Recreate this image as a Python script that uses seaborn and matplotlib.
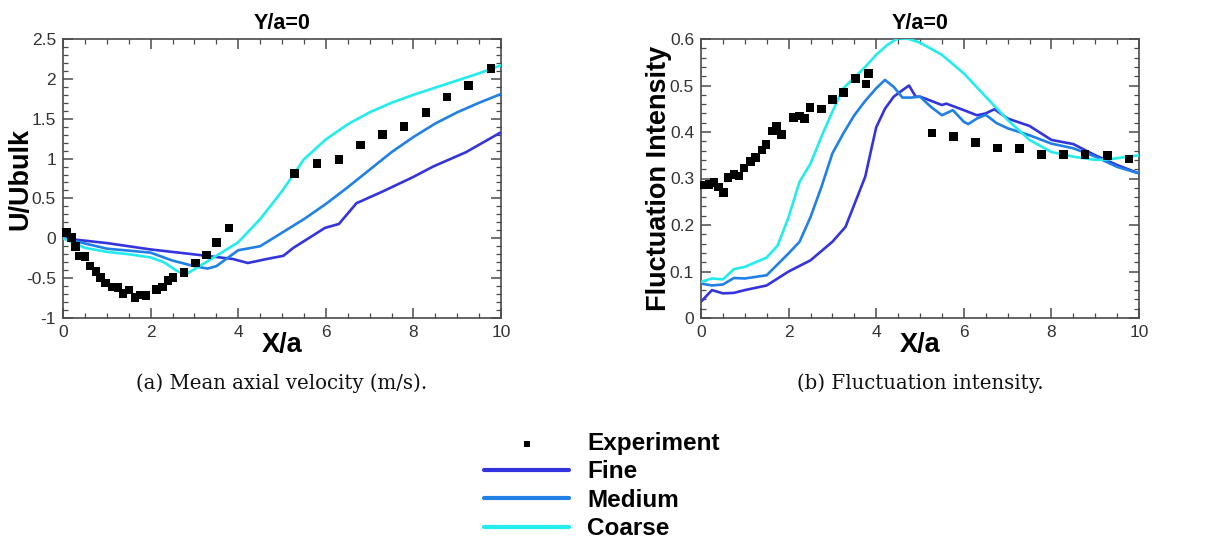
import numpy as np
import pandas as pd
import matplotlib
matplotlib.use("Agg")
import matplotlib.pyplot as plt
from matplotlib.ticker import MultipleLocator
import seaborn as sns

# ---------------- data: (a) mean axial velocity ----------------
exp_u_x = [0.08, 0.19, 0.29, 0.38, 0.50, 0.62, 0.75, 0.86, 0.97, 1.13, 1.26, 1.37, 1.51,
           1.64, 1.77, 1.89, 2.13, 2.27, 2.40, 2.51, 2.76, 3.02, 3.27, 3.51, 3.79,
           5.29, 5.80, 6.30, 6.79, 7.30, 7.79, 8.29, 8.77, 9.26, 9.77]
exp_u_y = [0.07, 0.01, -0.10, -0.22, -0.23, -0.35, -0.42, -0.49, -0.56, -0.61, -0.62, -0.69, -0.65,
           -0.74, -0.71, -0.72, -0.64, -0.61, -0.53, -0.49, -0.43, -0.31, -0.21, -0.05, 0.13,
           0.81, 0.94, 0.99, 1.17, 1.30, 1.40, 1.58, 1.77, 1.92, 2.13]

fine_u_x = [0.0, 1.0, 2.0, 3.12, 3.88, 4.22, 4.65, 5.03, 5.26, 5.98, 6.3, 6.7, 7.31, 8.0, 8.45, 9.2, 10.0]
fine_u_y = [0.0, -0.06, -0.14, -0.21, -0.26, -0.31, -0.26, -0.22, -0.12, 0.13, 0.18, 0.44, 0.59, 0.77, 0.90, 1.08, 1.33]

medium_u_x = [0.0, 1.0, 2.0, 2.5, 3.0, 3.3, 3.5, 4.0, 4.5, 5.0, 5.5, 6.0, 6.5, 7.0, 7.5, 8.0, 8.5, 9.0, 9.5, 10.0]
medium_u_y = [0.0, -0.13, -0.18, -0.28, -0.35, -0.38, -0.35, -0.15, -0.10, 0.07, 0.24, 0.43, 0.64, 0.86, 1.08, 1.27, 1.44, 1.58, 1.70, 1.81]

coarse_u_x = [0.0, 0.5, 1.0, 1.5, 2.0, 2.3, 2.6, 2.8, 3.0, 3.5, 4.0, 4.5, 5.0, 5.5, 6.0, 6.5, 7.0, 7.5, 8.0, 8.5, 9.0, 9.5, 10.0]
coarse_u_y = [0.0, -0.12, -0.17, -0.20, -0.24, -0.30, -0.41, -0.45, -0.39, -0.22, -0.05, 0.24, 0.59, 0.99, 1.24, 1.43, 1.58, 1.70, 1.80, 1.89, 1.98, 2.07, 2.17]

# ---------------- data: (b) fluctuation intensity ----------------
exp_f_x = [0.07, 0.18, 0.30, 0.40, 0.51, 0.62, 0.75, 0.87, 0.98, 1.13, 1.25, 1.39, 1.48,
           1.63, 1.73, 1.84, 2.11, 2.25, 2.36, 2.49, 2.75, 3.00, 3.25, 3.53, 3.77, 3.83,
           5.27, 5.76, 6.27, 6.77, 7.27, 7.77, 8.27, 8.77, 9.28, 9.77]
exp_f_y = [0.286, 0.287, 0.291, 0.282, 0.270, 0.302, 0.309, 0.305, 0.323, 0.336, 0.345, 0.361, 0.373,
           0.402, 0.413, 0.395, 0.431, 0.434, 0.429, 0.453, 0.449, 0.470, 0.485, 0.515, 0.503, 0.526,
           0.398, 0.390, 0.378, 0.366, 0.364, 0.352, 0.352, 0.352, 0.350, 0.342]

fine_f_x = [0.0, 0.25, 0.5, 0.75, 1.0, 1.5, 2.0, 2.5, 3.0, 3.3, 3.75, 3.9, 4.0, 4.2, 4.4, 4.6, 4.75,
            4.9, 5.0, 5.2, 5.5, 5.6, 6.0, 6.3, 6.5, 6.7, 7.0, 7.5, 8.0, 8.5, 9.0, 9.5, 10.0]
fine_f_y = [0.035, 0.060, 0.053, 0.054, 0.060, 0.070, 0.100, 0.124, 0.164, 0.196, 0.304, 0.368, 0.410,
            0.450, 0.476, 0.490, 0.500, 0.476, 0.476, 0.469, 0.458, 0.461, 0.447, 0.436, 0.440, 0.449,
            0.429, 0.413, 0.383, 0.374, 0.350, 0.329, 0.311]

medium_f_x = [0.0, 0.25, 0.5, 0.75, 1.0, 1.5, 2.0, 2.25, 2.5, 2.75, 3.0, 3.25, 3.5, 3.75, 4.0, 4.2,
              4.4, 4.6, 4.8, 5.0, 5.25, 5.5, 5.75, 6.0, 6.1, 6.3, 6.5, 6.75, 7.0, 7.5, 8.0, 8.5, 9.0, 9.5, 10.0]
medium_f_y = [0.074, 0.070, 0.072, 0.086, 0.085, 0.092, 0.139, 0.164, 0.217, 0.282, 0.354, 0.397, 0.436,
              0.467, 0.494, 0.512, 0.497, 0.474, 0.474, 0.476, 0.454, 0.436, 0.447, 0.422, 0.417, 0.429,
              0.437, 0.419, 0.408, 0.393, 0.375, 0.365, 0.347, 0.325, 0.311]

coarse_f_x = [0.0, 0.25, 0.5, 0.75, 1.0, 1.5, 1.75, 2.0, 2.25, 2.5, 2.75, 3.0, 3.25, 3.5, 3.75, 4.0,
              4.25, 4.5, 4.75, 5.0, 5.5, 6.0, 6.5, 7.0, 7.5, 8.0, 8.5, 9.0, 9.3, 9.6, 10.0]
coarse_f_y = [0.078, 0.085, 0.083, 0.105, 0.110, 0.130, 0.156, 0.217, 0.293, 0.332, 0.390, 0.444, 0.494,
              0.517, 0.540, 0.566, 0.587, 0.602, 0.600, 0.592, 0.566, 0.526, 0.476, 0.426, 0.383, 0.357,
              0.347, 0.340, 0.341, 0.345, 0.350]

series_names = ["Experiment", "Fine", "Medium", "Coarse"]
captions = ["(a) Mean axial velocity (m/s).", "(b) Fluctuation intensity."]

# ---------------- styling ----------------
sns.set_theme(style="ticks")
plt.rcParams["font.family"] = ["Liberation Sans", "DejaVu Sans"]
plt.rcParams["text.color"] = "black"
plt.rcParams["axes.labelcolor"] = "black"

C_FINE = "#3434DE"
C_MED = "#2080E6"
C_COARSE = "#22ECEE"
C_FRAME = "#4a4a4a"

fig = plt.figure(figsize=(12.31, 5.39), dpi=100)
ax1 = fig.add_axes([63 / 1231, 1 - 318 / 539, (501 - 63) / 1231, (318 - 39) / 539])
ax2 = fig.add_axes([701 / 1231, 1 - 318 / 539, (1139 - 701) / 1231, (318 - 39) / 539])


def draw(ax, ex, ey, fx, fy, mx, my, cx, cy):
    sns.scatterplot(x=ex, y=ey, ax=ax, marker="s", s=38, color="black",
                    edgecolor="none", label=series_names[0], zorder=5, clip_on=False)
    for xs, ys, c, n in [(fx, fy, C_FINE, series_names[1]),
                         (mx, my, C_MED, series_names[2]),
                         (cx, cy, C_COARSE, series_names[3])]:
        sns.lineplot(x=xs, y=ys, ax=ax, color=c, lw=1.9, estimator=None,
                     sort=False, label=n, zorder=3)
    if ax.get_legend() is not None:
        ax.get_legend().remove()


draw(ax1, exp_u_x, exp_u_y, fine_u_x, fine_u_y, medium_u_x, medium_u_y, coarse_u_x, coarse_u_y)
draw(ax2, exp_f_x, exp_f_y, fine_f_x, fine_f_y, medium_f_x, medium_f_y, coarse_f_x, coarse_f_y)

ax1.set_xlim(0, 10)
ax1.set_ylim(-1, 2.5)
ax1.xaxis.set_minor_locator(MultipleLocator(0.5))
ax1.set_yticks(np.arange(-1, 2.51, 0.5))
ax1.set_yticklabels(["-1", "-0.5", "0", "0.5", "1", "1.5", "2", "2.5"])
ax1.yaxis.set_minor_locator(MultipleLocator(0.1))

ax2.set_xlim(0, 10)
ax2.set_ylim(0, 0.6)
ax2.xaxis.set_minor_locator(MultipleLocator(0.5))
ax2.set_yticks(np.arange(0, 0.61, 0.1))
ax2.set_yticklabels(["0", "0.1", "0.2", "0.3", "0.4", "0.5", "0.6"])
ax2.yaxis.set_minor_locator(MultipleLocator(0.02))

for ax, ylab, cap in [(ax1, "U/Ubulk", captions[0]), (ax2, "Fluctuation Intensity", captions[1])]:
    for sp in ax.spines.values():
        sp.set_visible(True)
        sp.set_color(C_FRAME)
        sp.set_linewidth(1.2)
    ax.tick_params(which="both", direction="in", top=True, right=True,
                   color=C_FRAME, labelcolor="#333333", labelsize=12.5, pad=5)
    ax.tick_params(which="major", length=7, width=1.1)
    ax.tick_params(which="minor", length=3.5, width=0.9)
    ax.set_xticks([0, 2, 4, 6, 8, 10])
    ax.set_xticklabels(["0", "2", "4", "6", "8", "10"])
    ax.set_title("Y/a=0", fontsize=15.5, fontweight="bold", pad=7, color="black")
    ax.set_xlabel("X/a", fontsize=19.5, fontweight="bold", labelpad=-6, color="black")
    ax.set_ylabel(ylab, fontsize=19.5, fontweight="bold", color="black")
    ax.yaxis.label.set_va("center")
    ax.yaxis.set_label_coords(-0.097, 0.5)
    ax.grid(False)
    ax.text(0.5, -0.235, cap, transform=ax.transAxes, ha="center", va="center",
            fontsize=14.2, family=["DejaVu Serif"], color="#111111")

# legend
handles, labels = ax1.get_legend_handles_labels()
leg = fig.legend(handles, labels, loc="upper left", bbox_to_anchor=(484 / 1231, 1 - 432 / 539),
                 frameon=False, borderpad=0, borderaxespad=0, handlelength=3.5,
                 handletextpad=0.75, labelspacing=0.22, markerscale=0.7,
                 prop={"family": "Liberation Sans", "weight": "bold", "size": 17.5})
for line in leg.get_lines():
    line.set_linewidth(3.0)
for t in leg.get_texts():
    t.set_color("black")

fig.savefig("out.png", dpi=100)
